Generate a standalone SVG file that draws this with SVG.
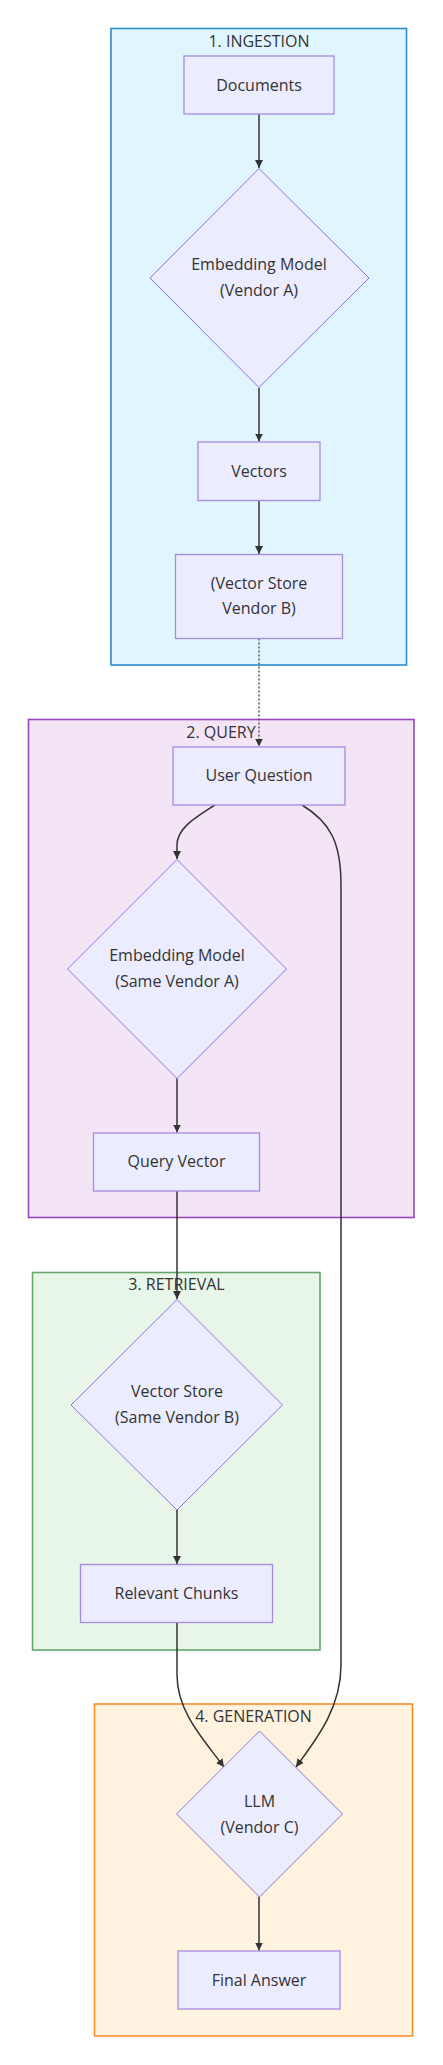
<svg xmlns="http://www.w3.org/2000/svg" width="443" height="2065" viewBox="0 0 443 2065">
<style>
.c1{fill:#e1f5fe;stroke:#2a8fd0;stroke-width:1.6}
.c2{fill:#f3e5f5;stroke:#9a45bd;stroke-width:1.6}
.c3{fill:#e8f5e9;stroke:#64a668;stroke-width:1.6}
.c4{fill:#fff3e0;stroke:#fb8c2c;stroke-width:1.6}
.n{fill:#ececff;stroke:#a58ae0;stroke-width:1.3}
.d{fill:#ececff;stroke:#9370db;stroke-width:1}
text{font-family:"Open Sans","DejaVu Sans",sans-serif;font-size:16px;fill:#333;text-anchor:middle}
.e{fill:none;stroke:#333;stroke-width:1.5}
.dot{fill:none;stroke:#555;stroke-width:1.5;stroke-dasharray:2 2}
</style>
<defs>
<marker id="ah" viewBox="0 0 10 10" refX="10" refY="5" markerWidth="8" markerHeight="8" markerUnits="userSpaceOnUse" orient="auto">
<path d="M0,0 L10,5 L0,10 z" fill="#333"/>
</marker>
</defs>
<g id="cluster-ingestion">
<rect class="c1" x="111" y="28.5" width="295.5" height="636.5"/>
<text x="259" y="46.5">1. INGESTION</text>
</g>
<g id="cluster-query">
<rect class="c2" x="28.5" y="719.5" width="385.5" height="498"/>
<text x="221" y="737.5">2. QUERY</text>
</g>
<g id="cluster-retrieval">
<rect class="c3" x="32.5" y="1272.5" width="287.5" height="377.5"/>
<text x="176.5" y="1290">3. RETRIEVAL</text>
</g>
<g id="cluster-generation">
<rect class="c4" x="94.5" y="1704" width="318" height="332"/>
<text x="253.5" y="1721.5">4. GENERATION</text>
</g>
<g id="connectors">
<path class="e" d="M259,114 L259,168" marker-end="url(#ah)"/>
<path class="e" d="M259,388 L259,441.5" marker-end="url(#ah)"/>
<path class="e" d="M259,500.5 L259,554" marker-end="url(#ah)"/>
<path class="dot" d="M259,638.5 L259,746.5" marker-end="url(#ah)"/>
<path class="e" d="M215,805 C195,818 177,828 177,845 L177,859" marker-end="url(#ah)"/>
<path class="e" d="M177,1078.5 L177,1132.5" marker-end="url(#ah)"/>
<path class="e" d="M177,1191 L177,1299" marker-end="url(#ah)"/>
<path class="e" d="M177,1510 L177,1564" marker-end="url(#ah)"/>
<path class="e" d="M177,1623 L177,1675 C177,1712 204,1740 224,1767" marker-end="url(#ah)"/>
<path class="e" d="M302,805 C330,822 341,842 341,885 L341,1665 C341,1710 314,1742 296,1767" marker-end="url(#ah)"/>
<path class="e" d="M259,1897 L259,1950.5" marker-end="url(#ah)"/>
</g>
<g id="node-documents">
<rect class="n" x="184" y="56" width="150" height="58"/>
<text x="259" y="90.5">Documents</text>
</g>
<g id="node-embed-a">
<polygon class="d" points="259,168.5 369,278 259,387.5 150,278"/>
<text x="259" y="270">Embedding Model</text>
<text x="259" y="296">(Vendor A)</text>
</g>
<g id="node-vectors">
<rect class="n" x="198" y="442" width="122" height="58.5"/>
<text x="259" y="476.5">Vectors</text>
</g>
<g id="node-vectorstore">
<rect class="n" x="175.5" y="554.5" width="167" height="84"/>
<text x="259" y="588.5">(Vector Store</text>
<text x="259" y="614">Vendor B)</text>
</g>
<g id="node-userquestion">
<rect class="n" x="173" y="747" width="172" height="58"/>
<text x="259" y="781">User Question</text>
</g>
<g id="node-embed-same">
<polygon class="d" points="177,859.5 286.5,969 177,1078.5 67.5,969"/>
<text x="177" y="961">Embedding Model</text>
<text x="177" y="987">(Same Vendor A)</text>
</g>
<g id="node-queryvector">
<rect class="n" x="93.5" y="1133" width="166" height="58"/>
<text x="176.5" y="1167">Query Vector</text>
</g>
<g id="node-vectorstore-same">
<polygon class="d" points="177,1299.5 282.5,1405 177,1510 71,1405"/>
<text x="177" y="1397">Vector Store</text>
<text x="177" y="1423">(Same Vendor B)</text>
</g>
<g id="node-chunks">
<rect class="n" x="80.5" y="1564.5" width="192" height="58"/>
<text x="176.5" y="1598.5">Relevant Chunks</text>
</g>
<g id="node-llm">
<polygon class="d" points="259.5,1731 342.5,1814 259.5,1897 176.5,1814"/>
<text x="259.5" y="1807">LLM</text>
<text x="259.5" y="1833">(Vendor C)</text>
</g>
<g id="node-final">
<rect class="n" x="178" y="1951" width="162" height="58"/>
<text x="259" y="1985.5">Final Answer</text>
</g>
</svg>
